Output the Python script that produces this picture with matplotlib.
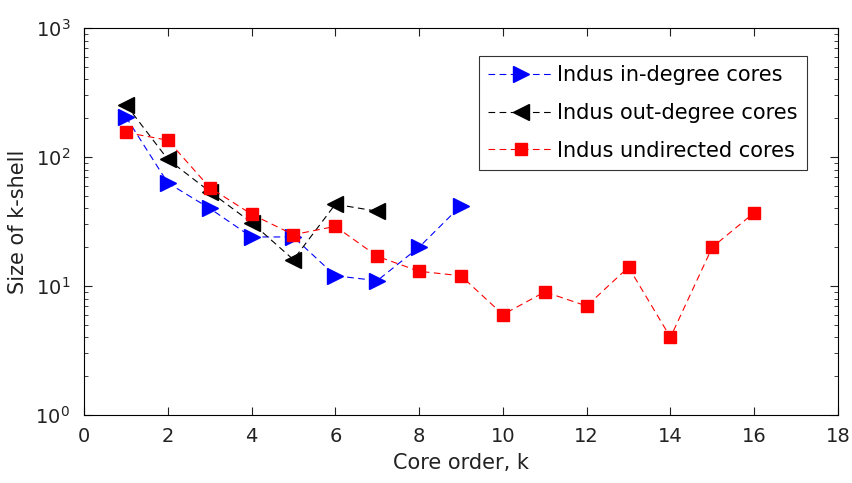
import matplotlib.pyplot as plt
import numpy as np

plt.rcParams['font.family'] = ['DejaVu Sans']

# Core orders and k-shell sizes
k_in = [1, 2, 3, 4, 5, 6, 7, 8, 9]
size_in = [205, 63, 40, 24, 24, 12, 11, 20, 42]

k_out = [1, 2, 3, 4, 5, 6, 7]
size_out = [255, 96, 54, 31, 16, 43, 38]

k_und = [1, 2, 3, 4, 5, 6, 7, 8, 9, 10, 11, 12, 13, 14, 15, 16]
size_und = [155, 135, 58, 36, 25, 29, 17, 13, 12, 6, 9, 7, 14, 4, 20, 37]

labels = ['Indus in-degree cores', 'Indus out-degree cores', 'Indus undirected cores']

fig = plt.figure(figsize=(8.52, 4.83), dpi=100)
ax = fig.add_axes([84 / 852, 1 - 415 / 483, (838 - 84) / 852, (415 - 28) / 483])

ax.plot(k_in, size_in, '--', color='blue', marker='>', markersize=11,
        linewidth=0.8, dashes=(6, 4), label=labels[0])
ax.plot(k_out, size_out, '--', color='black', marker='<', markersize=11,
        linewidth=0.8, dashes=(6, 4), label=labels[1])
ax.plot(k_und, size_und, '--', color='red', marker='s', markersize=8.5,
        linewidth=0.8, dashes=(6, 4), label=labels[2])

ax.set_yscale('log')
ax.set_xlim(0, 18)
ax.set_ylim(1, 1000)
ax.set_xticks(np.arange(0, 19, 2))
ax.tick_params(which='both', direction='in', top=True, right=True,
               labelsize=14, colors='#222222')
ax.tick_params(axis='x', pad=9)
ax.tick_params(axis='y', pad=10)
ax.tick_params(which='major', length=6)
ax.tick_params(which='minor', length=3)
for s in ax.spines.values():
    s.set_linewidth(0.8)

ax.set_xlabel('Core order, k', fontsize=15, color='#222222', labelpad=5)
ax.set_ylabel('Size of k-shell', fontsize=15, color='#222222', labelpad=5)

leg = ax.legend(loc='upper right', bbox_to_anchor=(0.959, 0.928), borderaxespad=0,
                fontsize=15, frameon=True, fancybox=False, edgecolor='black',
                handlelength=3.1, handletextpad=0.2, borderpad=0.45,
                labelspacing=0.85)
leg.get_frame().set_linewidth(0.8)

plt.savefig('out.png', dpi=100)
